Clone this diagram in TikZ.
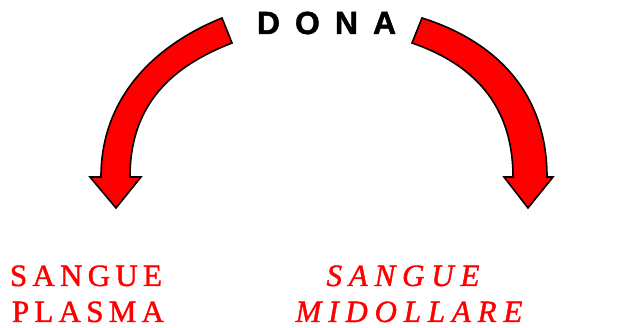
\documentclass[tikz,border=0pt]{standalone}
\usepackage{fontspec}
\setmainfont{Liberation Serif}[FakeBold=1.3]
\newfontfamily\donafont{Liberation Sans Bold}[FakeBold=1.5]
\begin{document}
\begin{tikzpicture}[x=1pt,y=-1pt,
  bigarrow/.style={fill=red, draw=black, line width=1.6pt, line join=miter},
  lblup/.style={text=red, anchor=base, inner sep=0pt, text depth=0pt,
    font=\fontsize{31}{36}\selectfont\addfontfeature{LetterSpace=17}},
  lblit/.style={text=red, anchor=base, inner sep=0pt, text depth=0pt,
    font=\fontsize{31}{36}\selectfont\itshape\addfontfeature{LetterSpace=22}},
  titl/.style={text=black, anchor=base, inner sep=0pt,
    font=\donafont\fontsize{32}{34}\selectfont}]
\useasboundingbox (0,0) rectangle (629,328);
% left arrow
\draw[bigarrow] (222,18) .. controls (162,42) and (101,92) .. (101,177)
  -- (90,177) -- (116,208) -- (141,177) -- (130,177)
  .. controls (130,97) and (181,63) .. (232,43) -- cycle;
% right arrow
\draw[bigarrow] (422,18) .. controls (489,39) and (547,87) .. (547,177)
  -- (553,177) -- (528,208) -- (504,177) -- (513,177)
  .. controls (513,97) and (464,61) .. (412,43) -- cycle;
% texts
\node[titl] (dona) at (326.5,34) {D\hspace{15pt}O\hspace{15pt}N\hspace{15pt}A};
\node[lblup] (sl1) at (86,286) {SANGUE};
\node[lblup] (sl2) at (88,322) {PLASMA};
\node[lblit] (sr1) at (403,286) {SANGUE};
\node[lblit] (sr2) at (409,322) {MIDOLLARE};
\end{tikzpicture}
\end{document}
